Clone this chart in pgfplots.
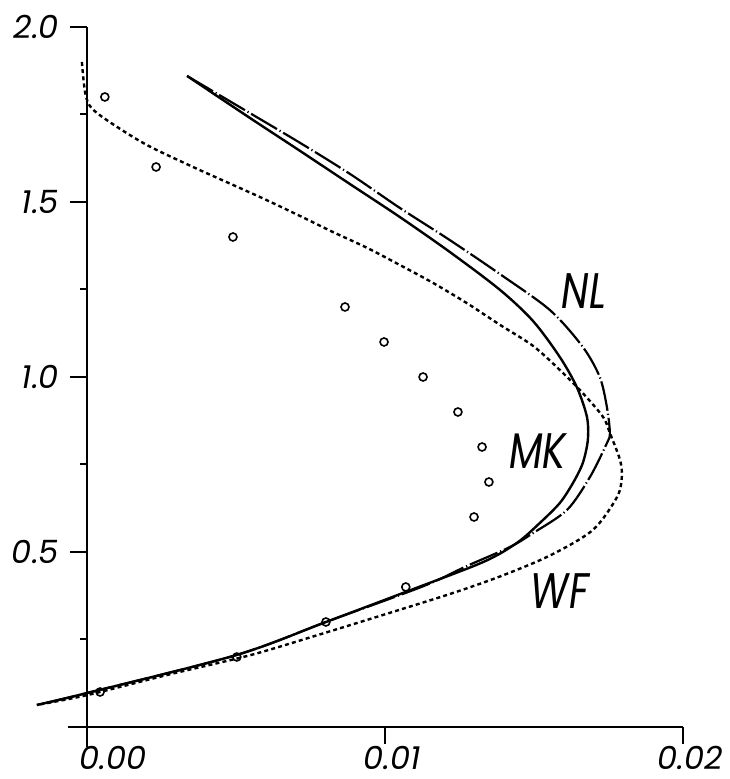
\documentclass[border=0pt]{standalone}
\usepackage{fontspec}
\setmainfont{Poppins}
\usepackage{pgfplots}
\pgfplotsset{compat=1.18}

\begin{document}
\begin{tikzpicture}
\begin{axis}[
scale only axis,
width=307.5pt, height=360pt,
xmin=-0.00064, xmax=0.02,
ymin=-0.057, ymax=2.0,
axis lines=middle,
axis line style={-, line width=1.1pt},
hide obscured x ticks=false,
hide obscured y ticks=false,
scaled x ticks=false,
clip=false,
tick align=outside,
xtick={0,0.01,0.02},
xticklabels={\hspace*{19pt}0.00,0.01,0.02},
ytick={0.5,1.0,1.5,2.0},
yticklabels={0.5,1.0,1.5,2.0},
minor ytick={0.25,0.75,1.25,1.75},
major tick length=8.5pt,
minor tick length=3.5pt,
every tick/.style={black, line width=1pt},
/pgf/number format/assume math mode=true,
tick label style={font=\fontsize{16}{18}\selectfont\itshape},
xticklabel style={yshift=2.5pt, xshift=3.5pt},
yticklabel style={xshift=-2pt},
]
% invisible frame giving the picture its size
\path (axis cs:-0.002919,-0.14857) rectangle (axis cs:0.021342,2.0771);

% MK, solid
\addplot[black, line width=1.2pt, smooth] coordinates {
(0.00336,1.860) (0.00547,1.740) (0.00715,1.646) (0.00883,1.551)
(0.01050,1.457) (0.01218,1.357) (0.01386,1.249) (0.01497,1.160)
(0.01587,1.057) (0.01644,0.971) (0.01678,0.886) (0.01681,0.820)
(0.01664,0.754) (0.01631,0.697) (0.01587,0.640) (0.01520,0.583)
(0.01443,0.526) (0.01329,0.471) (0.01070,0.386) (0.00802,0.300)
(0.00503,0.206) (0.0,0.097) (-0.00168,0.063)
};

% NL, dash-dot
\addplot[black, line width=1.1pt, smooth,
  dash pattern=on 15pt off 1.5pt on 0.6pt off 1.5pt] coordinates {
(0.00336,1.860) (0.00513,1.771) (0.00715,1.669) (0.00883,1.580)
(0.01050,1.483) (0.01218,1.391) (0.01386,1.294) (0.01554,1.191)
(0.01664,1.086) (0.01721,1.000) (0.01745,0.914) (0.01755,0.840)
(0.01745,0.811) (0.01688,0.714) (0.01611,0.620) (0.01497,0.554)
(0.01419,0.514) (0.01275,0.460) (0.01128,0.402) (0.00802,0.300)
(0.00503,0.206) (0.0,0.097) (-0.00168,0.063)
};

% WF, dotted
\addplot[black, line width=1.2pt, smooth,
  dash pattern=on 2pt off 1.6pt] coordinates {
(-0.00017,1.900) (-0.00003,1.800) (0.00034,1.754) (0.00188,1.669)
(0.00356,1.600) (0.00581,1.514) (0.00715,1.460) (0.00826,1.414)
(0.00940,1.369) (0.01050,1.320) (0.01161,1.269) (0.01275,1.211)
(0.01386,1.149) (0.01497,1.089) (0.01587,1.020) (0.01664,0.954)
(0.01732,0.886) (0.01755,0.840) (0.01789,0.763) (0.01795,0.714)
(0.01779,0.657) (0.01698,0.563) (0.01554,0.490) (0.01386,0.430)
(0.01218,0.380) (0.00993,0.320) (0.00772,0.262) (0.00547,0.205)
(0.00275,0.150) (0.0,0.091) (-0.00168,0.063)
};

% measured points
\addplot[only marks, mark=o, mark size=2pt, black, line width=0.8pt] coordinates {
(0.00060,1.8) (0.00232,1.6) (0.00490,1.4) (0.00866,1.2) (0.00997,1.1)
(0.01128,1.0) (0.01245,0.9) (0.01326,0.8) (0.01349,0.7) (0.01299,0.6)
(0.01070,0.4) (0.00802,0.3) (0.00503,0.2) (0.00044,0.1)
};

\node[font=\fontsize{25}{27}\selectfont\itshape, xscale=0.78] at (axis cs:0.01668,1.246) {NL};
\node[font=\fontsize{25}{27}\selectfont\itshape, xscale=0.78] at (axis cs:0.01513,0.789) {MK};
\node[font=\fontsize{25}{27}\selectfont\itshape, xscale=0.78] at (axis cs:0.01587,0.389) {WF};
\end{axis}
\end{tikzpicture}
\end{document}
